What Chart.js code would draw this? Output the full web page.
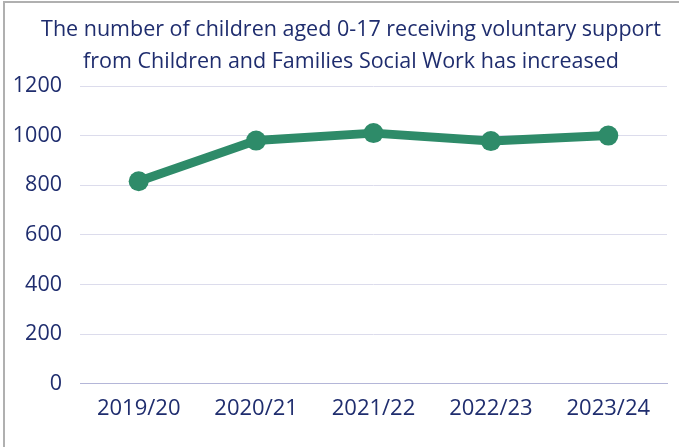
<!DOCTYPE html>
<html>
<head>
<meta charset="utf-8">
<script src="https://cdn.jsdelivr.net/npm/chart.js@4"></script>
<style>
    html, body { margin: 0; padding: 0; background: #fff; overflow: hidden; }
    #frame {
        position: absolute;
        left: 3px;
        top: 1px;
        width: 676px;
        height: 446px;
        border-left: 2px solid #b0b0b0;
        border-top: 2px solid #b0b0b0;
        box-sizing: border-box;
    }
    #chartBox { position: absolute; left: 0; top: 0; width: 674px; height: 444px; }
    #chartTitle {
        position: absolute;
        left: 0;
        top: 12px;
        width: 702px;
        text-align: center;
        white-space: nowrap;
        font-family: 'Open Sans', sans-serif;
        font-size: 21.5px;
        line-height: 32px;
        color: #1f2d6e;
        z-index: 1;
    }
</style>
</head>
<body>
<div id="frame">
    <div id="chartBox"><canvas id="supportChart"></canvas></div>
</div>
<div id="chartTitle"></div>
<script>
// Children aged 0-17 receiving voluntary support, by year
const years = ['2019/20', '2020/21', '2021/22', '2022/23', '2023/24'];
const childrenSupported = [816, 980, 1010, 978, 1000];
const yTicks = [0, 200, 400, 600, 800, 1000, 1200];
const titleLines = [
    'The number of children aged 0-17 receiving voluntary support',
    'from Children and Families Social Work has increased'
];

const navy = '#1f2d6e';
const green = '#2e8b69';

document.addEventListener('DOMContentLoaded', function() {
    // heading sits above the canvas as plain text
    const title = document.getElementById('chartTitle');
    titleLines.forEach(line => {
        const row = document.createElement('div');
        row.textContent = line;
        title.appendChild(row);
    });

    const ctx = document.getElementById('supportChart');
    new Chart(ctx, {
        type: 'line',
        data: {
            labels: years,
            datasets: [{
                data: childrenSupported,
                borderColor: green,
                backgroundColor: green,
                borderWidth: 9,
                pointRadius: 10,
                pointHoverRadius: 10,
                pointBorderWidth: 0,
                tension: 0,
                borderJoinStyle: 'round'
            }]
        },
        options: {
            responsive: true,
            maintainAspectRatio: false,
            animation: false,
            layout: { padding: { left: 8, right: 12, top: 83, bottom: 21 } },
            plugins: {
                legend: { display: false },
                tooltip: { enabled: false },
                title: { display: false }
            },
            scales: {
                x: {
                    offset: true,
                    grid: { display: false },
                    border: { display: true, color: '#b4b6d8', width: 1 },
                    ticks: {
                        color: navy,
                        font: { family: 'Open Sans', size: 22 },
                        padding: 4
                    }
                },
                y: {
                    min: 0,
                    max: 1200,
                    afterBuildTicks: axis => {
                        axis.ticks = yTicks.map(v => ({ value: v }));
                    },
                    afterFit: axis => {
                        axis.width = 67;
                    },
                    grid: { color: '#dcdcec', lineWidth: 1, drawTicks: false },
                    border: { display: false },
                    ticks: {
                        color: navy,
                        font: { family: 'Open Sans', size: 21.5 },
                        padding: 18,
                        callback: value => String(value)
                    }
                }
            }
        }
    });
});
</script>
</body>
</html>
